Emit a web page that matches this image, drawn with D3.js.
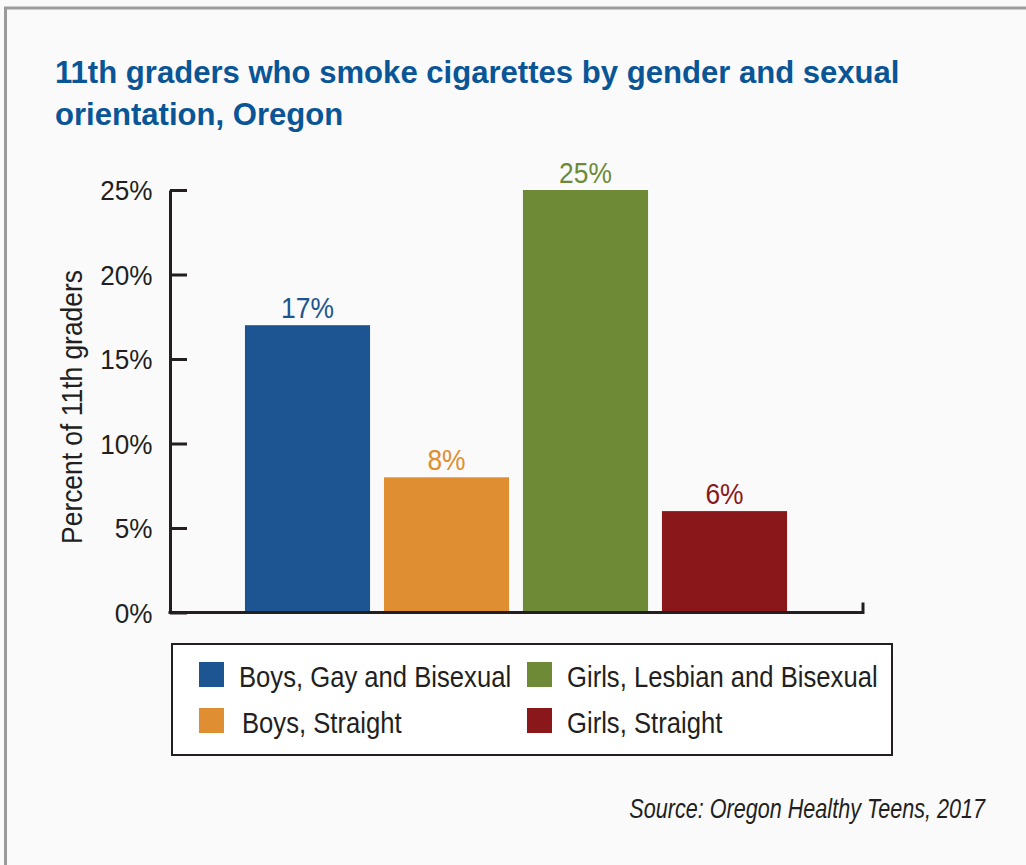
<!DOCTYPE html>
<html>
<head>
<meta charset="utf-8">
<script src="https://cdn.jsdelivr.net/npm/d3@7"></script>
<style>
    html, body { margin: 0; padding: 0; background: #fafafa; }
    svg { display: block; }
    text { font-family: "Liberation Sans", Arial, Helvetica, sans-serif; }
</style>
</head>
<body>
<div id="chart"></div>
<script>
const categories = ["Boys, Gay and Bisexual", "Boys, Straight", "Girls, Lesbian and Bisexual", "Girls, Straight"];
const values = [17, 8, 25, 6];
const colors = ["#1c5592", "#e08e32", "#6e8a37", "#8a171a"];
const yTicks = [0, 5, 10, 15, 20, 25];
const titleLines = ["11th graders who smoke cigarettes by gender and sexual", "orientation, Oregon"];

const width = 1026, height = 865;
const ink = "#231f20";

const svg = d3.select("#chart").append("svg")
    .attr("width", width)
    .attr("height", height);

// the reference uses a condensed face, so squeeze text horizontally around its anchor
function place(sel, x, y, sx, extra) {
    sel.attr("x", 0).attr("y", 0)
        .attr("transform", "translate(" + x + "," + y + ")" + (extra || "") + " scale(" + sx + ",1)");
}

// panel frame
svg.append("rect")
    .attr("width", width).attr("height", height)
    .attr("fill", "#fafafa");
svg.append("path")
    .attr("d", "M5.5," + height + " V8 H" + width)
    .attr("fill", "none")
    .attr("stroke", "#9b9b9b")
    .attr("stroke-width", 3);

// title
const title = svg.append("g");
titleLines.forEach((line, i) => {
    title.append("text")
        .attr("font-weight", "bold")
        .attr("font-size", 32)
        .attr("fill", "#0a5596")
        .text(line);
});
let firstLen = title.select("text").node().getComputedTextLength(),
    titleScale = 845 / firstLen;
title.selectAll("text").each(function (d, i) {
    place(d3.select(this), 55, 83 + i * 42, titleScale);
});

// scales
const plot = { left: 170, right: 863, top: 190, bottom: 612.5 };

let x = d3.scaleBand()
    .domain(categories)
    .range([238, 794])
    .paddingInner(0.1)
    .paddingOuter(0.05);

let y = d3.scaleLinear()
    .domain([0, 25])
    .range([plot.bottom, plot.top]);

// y axis, ticks pointing inward
let yAxis = svg.append("g")
    .attr("transform", "translate(" + plot.left + ",0)")
    .call(d3.axisLeft(y)
        .tickValues(yTicks)
        .tickFormat(d => d + "%")
        .tickSizeInner(-17)
        .tickSizeOuter(0));

yAxis.select(".domain").attr("stroke", ink).attr("stroke-width", 3);
yAxis.selectAll(".tick line").attr("stroke", ink).attr("stroke-width", 3);
yAxis.selectAll(".tick text")
    .attr("font-size", 27.5)
    .attr("fill", ink)
    .attr("dy", "0.36em")
    .each(function () { place(d3.select(this), -17.5, 0, 0.95); });

// x axis baseline with small end tick
svg.append("path")
    .attr("d", "M" + (plot.left - 1.5) + "," + y(0) + " H" + plot.right + " V" + (y(0) - 10))
    .attr("fill", "none")
    .attr("stroke", ink)
    .attr("stroke-width", 3);

// y axis title
svg.append("text")
    .attr("font-size", 29)
    .attr("fill", ink)
    .attr("text-anchor", "middle")
    .text("Percent of 11th graders")
    .call(place, 82, 407, 0.91, " rotate(-90)");

// bars
svg.selectAll(".bar")
    .data(values)
    .enter().append("rect")
    .attr("class", "bar")
    .attr("x", (d, i) => x(categories[i]))
    .attr("y", d => y(d))
    .attr("width", x.bandwidth())
    .attr("height", d => y(0) - y(d) - 1.5)
    .attr("fill", (d, i) => colors[i]);

// value labels
svg.selectAll(".value")
    .data(values)
    .enter().append("text")
    .attr("class", "value")
    .attr("text-anchor", "middle")
    .attr("font-size", 30)
    .attr("fill", (d, i) => colors[i])
    .text(d => d + "%")
    .each(function (d, i) {
        place(d3.select(this), x(categories[i]) + x.bandwidth() / 2, y(d) - 7.5, 0.88);
    });

// legend
const legend = svg.append("g").attr("transform", "translate(172,644)");
legend.append("rect")
    .attr("width", 720).attr("height", 111)
    .attr("fill", "#ffffff")
    .attr("stroke", ink)
    .attr("stroke-width", 2);

const legendOrder = [0, 2, 1, 3];
let item = legend.selectAll(".item")
    .data(legendOrder)
    .enter().append("g")
    .attr("class", "item")
    .attr("transform", (d, i) => "translate(" + (i % 2 ? 355 : 27) + "," + (i < 2 ? 18 : 64) + ")");

item.append("rect")
    .attr("width", 25).attr("height", 25)
    .attr("fill", d => colors[d]);

item.append("text")
    .attr("font-size", 30)
    .attr("fill", ink)
    .text(d => categories[d])
    .each(function (d, i) {
        place(d3.select(this), i === 2 ? 43 : 40, 25, 0.855);
    });

// source
svg.append("text")
    .attr("text-anchor", "end")
    .attr("font-size", 27)
    .attr("font-style", "italic")
    .attr("fill", ink)
    .text("Source: Oregon Healthy Teens, 2017")
    .call(place, 985, 818, 0.8);
</script>
</body>
</html>
